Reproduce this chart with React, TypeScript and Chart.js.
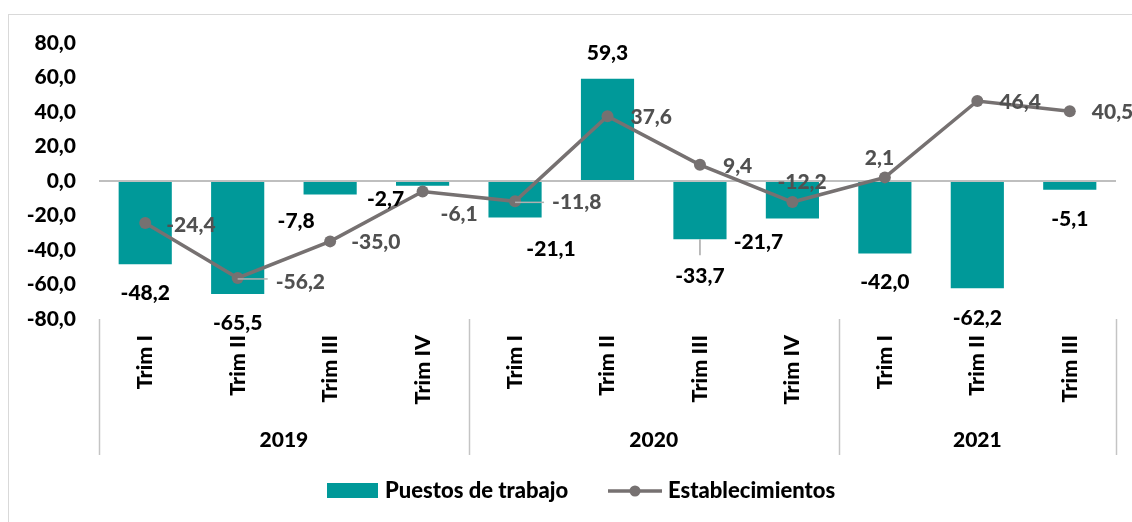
import React, { useEffect, useRef } from "react";
import { Chart, registerables } from "chart.js";

Chart.register(...registerables);

// ---------- data ----------
const categories = ["Trim I", "Trim II", "Trim III", "Trim IV", "Trim I", "Trim II", "Trim III", "Trim IV", "Trim I", "Trim II", "Trim III"];
const years = ["2019", "2020", "2021"];
const yearSpans = [4, 4, 3];
const puestos = [-48.2, -65.5, -7.8, -2.7, -21.1, 59.3, -33.7, -21.7, -42.0, -62.2, -5.1];
const establecimientos = [-24.4, -56.2, -35.0, -6.1, -11.8, 37.6, 9.4, -12.2, 2.1, 46.4, 40.5];
const seriesNames = ["Puestos de trabajo", "Establecimientos"];
const yMin = -80;
const yMax = 80;
const yStep = 20;

// ---------- label placement tweaks (pixels, not data) ----------
const barLabelShift: number[][] = [[0, 0], [0, 0], [-34, -2], [-37, -15], [36, 3], [0, 0], [0, 8], [-34, -5], [0, 0], [0, 1], [0, 0]];
const lineLabelShift: number[][] = [[-1, 1], [16, 3], [-1, 0], [-4, 22], [15, 0], [1, 0], [1, 0], [-37, -21], [-42, -20], [0, 0], [0, 0]];
const barLeaders = [6];
const lineLeaders = [1, 4];

const FONT = 'Lato, "Open Sans", sans-serif';
const WEIGHT = "900";
const TEAL = "#009999";
const GRAY = "#767171";
const LABEL_GRAY = "#505050";
const AXIS_LINE = "#c4c4c4";

const fmt = (v: number) => v.toFixed(1).replace(".", ",");

const overlayPlugin = {
  id: "overlay",
  afterDatasetsDraw(chart: any) {
    const ctx = chart.ctx as CanvasRenderingContext2D;
    const barMeta = chart.getDatasetMeta(1);
    const lineMeta = chart.getDatasetMeta(0);
    ctx.save();
    ctx.font = `${WEIGHT} 21px ${FONT}`;
    ctx.textBaseline = "middle";

    // bar labels
    barMeta.data.forEach((el: any, i: number) => {
      const v = puestos[i];
      const [dx, dy] = barLabelShift[i];
      const x = el.x + dx;
      const y = v < 0 ? el.y + 29 + dy : el.y - 25 + dy;
      if (barLeaders.includes(i)) {
        ctx.strokeStyle = "#a6a6a6";
        ctx.lineWidth = 1.5;
        ctx.beginPath();
        ctx.moveTo(el.x, el.y);
        ctx.lineTo(el.x, y - 21);
        ctx.stroke();
      }
      ctx.fillStyle = "#000000";
      ctx.textAlign = "center";
      ctx.fillText(fmt(v), x, y);
    });

    // line labels
    lineMeta.data.forEach((el: any, i: number) => {
      const v = establecimientos[i];
      const [dx, dy] = lineLabelShift[i];
      const x = el.x + 22 + dx;
      const y = el.y + 1 + dy;
      if (lineLeaders.includes(i)) {
        ctx.strokeStyle = "#b0b0b0";
        ctx.lineWidth = 1.5;
        ctx.beginPath();
        ctx.moveTo(el.x, el.y + 1);
        ctx.lineTo(x - 8, el.y + 1);
        ctx.stroke();
      }
      ctx.fillStyle = LABEL_GRAY;
      ctx.textAlign = "left";
      ctx.fillText(fmt(v), x, y);
    });
    ctx.restore();
  },
  afterDraw(chart: any) {
    const ctx = chart.ctx as CanvasRenderingContext2D;
    const xs = chart.scales.x;
    const area = chart.chartArea;
    const cw = (area.right - area.left) / categories.length;
    const axisTop = area.bottom;
    ctx.save();

    // group separators
    ctx.strokeStyle = AXIS_LINE;
    ctx.lineWidth = 1.5;
    let idx = 0;
    const bounds: number[] = [xs.getPixelForValue(0) - cw / 2];
    yearSpans.forEach((s) => {
      idx += s;
      bounds.push(xs.getPixelForValue(idx - 1) + cw / 2);
    });
    bounds.forEach((bx) => {
      ctx.beginPath();
      ctx.moveTo(Math.round(bx) + 0.5, axisTop);
      ctx.lineTo(Math.round(bx) + 0.5, axisTop + 136);
      ctx.stroke();
    });

    // rotated category labels
    ctx.fillStyle = "#000000";
    ctx.font = `${WEIGHT} 21.5px ${FONT}`;
    ctx.textBaseline = "middle";
    ctx.textAlign = "right";
    categories.forEach((c, i) => {
      const x = xs.getPixelForValue(i);
      ctx.save();
      ctx.translate(x, axisTop + 16);
      ctx.rotate(-Math.PI / 2);
      ctx.fillText(c, 0, 0);
      ctx.restore();
    });

    // year labels
    ctx.font = `${WEIGHT} 21px ${FONT}`;
    ctx.textAlign = "center";
    years.forEach((yr, i) => {
      const cx = (bounds[i] + bounds[i + 1]) / 2;
      ctx.fillText(yr, cx, axisTop + 121);
    });

    // legend
    const ly = 491;
    ctx.font = `${WEIGHT} 22px ${FONT}`;
    ctx.fillStyle = TEAL;
    ctx.fillRect(327, ly - 8, 51, 15);
    ctx.fillStyle = "#000000";
    ctx.textAlign = "left";
    ctx.fillText(seriesNames[0], 385, ly);
    ctx.strokeStyle = GRAY;
    ctx.lineWidth = 3.5;
    ctx.beginPath();
    ctx.moveTo(608, ly);
    ctx.lineTo(662, ly);
    ctx.stroke();
    ctx.fillStyle = GRAY;
    ctx.beginPath();
    ctx.arc(635, ly, 5.5, 0, Math.PI * 2);
    ctx.fill();
    ctx.fillStyle = "#000000";
    ctx.fillText(seriesNames[1], 668, ly);
    ctx.restore();
  },
};

export default function App() {
  const canvasRef = useRef<HTMLCanvasElement | null>(null);

  useEffect(() => {
    if (!canvasRef.current) return;
    const chart = new Chart(canvasRef.current, {
      type: "bar",
      data: {
        labels: categories,
        datasets: [
          {
            type: "line",
            label: seriesNames[1],
            data: establecimientos,
            borderColor: GRAY,
            backgroundColor: GRAY,
            borderWidth: 3.5,
            pointRadius: 6,
            pointBackgroundColor: GRAY,
            pointBorderWidth: 0,
            tension: 0,
            order: 0,
          } as any,
          {
            type: "bar",
            label: seriesNames[0],
            data: puestos,
            backgroundColor: TEAL,
            borderWidth: 0,
            barPercentage: 0.575,
            categoryPercentage: 1,
            order: 1,
          } as any,
        ],
      },
      options: {
        animation: false,
        responsive: false,
        maintainAspectRatio: false,
        layout: { padding: { top: 43, bottom: 203, right: 16, left: 0 } },
        plugins: {
          legend: { display: false },
          tooltip: { enabled: false },
          title: { display: false },
        },
        scales: {
          x: { display: false, offset: true },
          y: {
            min: yMin,
            max: yMax,
            border: { display: false },
            grid: {
              drawTicks: false,
              lineWidth: 2,
              color: (c: any) => (c.tick && c.tick.value === 0 ? "#bfbfbf" : "rgba(0,0,0,0)"),
            },
            ticks: {
              stepSize: yStep,
              padding: 23,
              color: "#000000",
              font: { family: FONT, size: 21, weight: WEIGHT },
              callback: (v: any) => fmt(Number(v)),
            },
            afterFit: (scale: any) => {
              scale.width = 99;
            },
          },
        },
      },
      plugins: [overlayPlugin],
    });
    return () => chart.destroy();
  }, []);

  return (
    <div style={{ position: "fixed", left: 0, top: 0, width: 1132, height: 522, overflow: "hidden", background: "#ffffff" }}>
      <div
        style={{
          position: "absolute",
          left: 8,
          top: 14,
          width: 1140,
          height: 520,
          borderTop: "1px solid #d9d9d9",
          borderLeft: "1px solid #d9d9d9",
        }}
      />
      <canvas ref={canvasRef} width={1132} height={522} style={{ position: "absolute", left: 0, top: 0 }} />
    </div>
  );
}
